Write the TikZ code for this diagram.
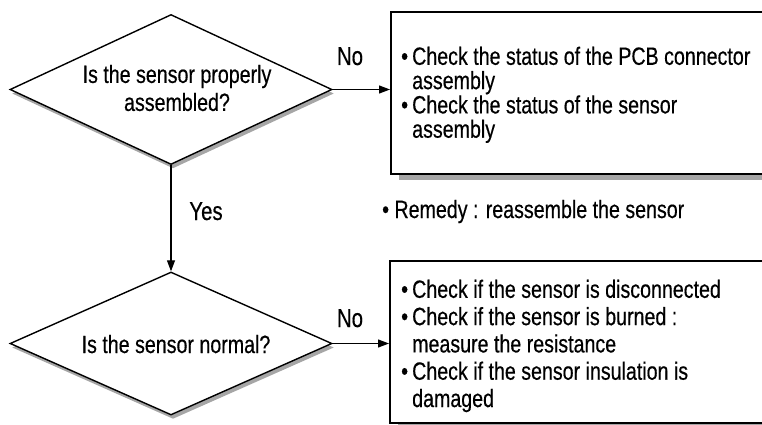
\documentclass[tikz,border=0pt]{standalone}
\usepackage{fontspec}
\setmainfont{Liberation Sans}[FakeStretch=0.785, FakeBold=0.4]
\usetikzlibrary{shapes.geometric,arrows.meta,shadows}
\definecolor{shadegray}{HTML}{A6A6A6}
\newcommand\bl{\makebox[11pt][l]{•}}
\newcommand\indt{\hspace*{11pt}}
\begin{document}
\begin{tikzpicture}[x=1pt,y=-1pt,
  decision/.style={diamond, draw, line width=1.4pt, fill=white, inner sep=0pt,
    general shadow={fill=shadegray, shadow xshift=2pt, shadow yshift=-4pt}},
  actionbox/.style={rectangle, draw, line width=2.4pt, fill=white, inner sep=0pt, anchor=north west,
    general shadow={fill=shadegray, shadow xshift=8pt, shadow yshift=-6pt}},
  qtext/.style={align=center, inner sep=0pt, font=\fontsize{25}{28}\selectfont},
  btext/.style={align=left, inner sep=0pt, anchor=north west},
  lbl/.style={inner sep=0pt, anchor=base, font=\fontsize{26}{26}\selectfont},
  arr/.style={line width=1.2pt, -{Triangle[length=11pt,width=8pt]}}
]
\useasboundingbox (0,0) rectangle (762,425);
\clip (0,0) rectangle (762,425);
\node[decision, minimum width=322pt, minimum height=150pt] (d1) at (171,89.5) {};
\node[qtext] (q1) at (177,88) {Is the sensor properly\\assembled?};
\node[decision, minimum width=322pt, minimum height=143pt] (d2) at (171,343.5) {};
\node[qtext, anchor=base] (q2) at (176,353) {Is the sensor normal?};
\node[actionbox, minimum width=400pt, minimum height=162pt] (box1) at (390,11) {};
\node[btext, font=\fontsize{25}{24.3}\selectfont] (t1) at (401,46.5)
  {\bl Check the status of the PCB connector\\\indt assembly\\\bl Check the status of the sensor\\\indt assembly};
\node[actionbox, minimum width=400pt, minimum height=162pt] (box2) at (389,260) {};
\node[btext, font=\fontsize{25}{27.3}\selectfont] (t2) at (401,279.5)
  {\bl Check if the sensor is disconnected\\\bl Check if the sensor is burned :\\\indt measure the resistance\\\bl Check if the sensor insulation is\\\indt damaged};
\node[inner sep=0pt, anchor=base west, font=\fontsize{25}{25}\selectfont] (rem) at (382,218) {• Remedy : reassemble the sensor};
\node[lbl] (no1) at (350,65) {No};
\node[lbl] (no2) at (350,327) {No};
\node[lbl] (yes) at (206,220) {Yes};
\draw[arr] (d1.east) -- (d1.east -| box1.west);
\draw[arr] (d1.south) -- (d2.north);
\draw[arr] (d2.east) -- (d2.east -| box2.west);
\end{tikzpicture}
\end{document}
